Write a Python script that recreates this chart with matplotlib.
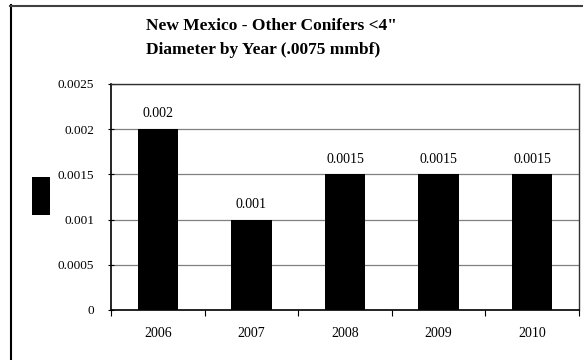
import matplotlib
matplotlib.use("Agg")
import matplotlib.pyplot as plt
from matplotlib.lines import Line2D
from matplotlib.patches import Rectangle

years = ["2006", "2007", "2008", "2009", "2010"]
values = [0.002, 0.001, 0.0015, 0.0015, 0.0015]
yticks = [0, 0.0005, 0.001, 0.0015, 0.002, 0.0025]
title1 = "New Mexico - Other Conifers <4\""
title2 = "Diameter by Year (.0075 mmbf)"

plt.rcParams['font.family'] = ['Liberation Serif', 'DejaVu Serif']

W, H = 583, 360
fig = plt.figure(figsize=(W / 100, H / 100), dpi=100)
fig.patch.set_facecolor('white')

L, R, T, B = 111, 579, 84, 310
ax = fig.add_axes([L / W, (H - B) / H, (R - L) / W, (B - T) / H])

x = list(range(len(years)))
ax.bar(x, values, width=0.43, color='black', zorder=3)
ax.set_xlim(-0.5, len(years) - 0.5)
ax.set_ylim(0, 0.0025)

ax.set_yticks(yticks)
ax.set_yticklabels([f"{v:g}" for v in yticks])
ax.set_xticks(x)
ax.set_xticklabels(years)
ax.set_xticks([i - 0.5 for i in range(len(years) + 1)], minor=True)

ax.tick_params(axis='y', direction='inout', length=4, width=0.8, pad=10, labelsize=9.5, colors='black')
ax.tick_params(axis='x', which='major', length=0, pad=12, labelsize=10)
ax.tick_params(axis='x', which='minor', direction='out', length=4, width=0.8)

ax.yaxis.grid(True, color='#808080', linewidth=0.9, zorder=0)
ax.set_axisbelow(True)

for s in ['left', 'bottom']:
    ax.spines[s].set_color('black')
    ax.spines[s].set_linewidth(1.2)
for s in ['top', 'right']:
    ax.spines[s].set_color('#303030')
    ax.spines[s].set_linewidth(1.0)

for xi, v in zip(x, values):
    ax.annotate(f"{v:g}", (xi, v), xytext=(0, 11), textcoords='offset points',
                ha='center', va='center', fontsize=10)

fig.text(271 / W, 1 - 26 / H, title1, ha='center', va='center', fontsize=12.5, fontweight='bold')
fig.text(263 / W, 1 - 50 / H, title2, ha='center', va='center', fontsize=12.5, fontweight='bold')

# legend key (no label)
fig.patches.append(Rectangle((32 / W, (H - 215) / H), 18 / W, 38 / H,
                             transform=fig.transFigure, facecolor='black', edgecolor='none'))

# outer chart border (left and top visible)
fig.add_artist(Line2D([10.5 / W, 10.5 / W], [0, 1 - 5 / H], transform=fig.transFigure,
                      color='black', linewidth=1.5))
fig.add_artist(Line2D([10 / W, 1], [1 - 5.5 / H, 1 - 5.5 / H], transform=fig.transFigure,
                      color='#404040', linewidth=1.5))

fig.savefig("out.png", dpi=100)
